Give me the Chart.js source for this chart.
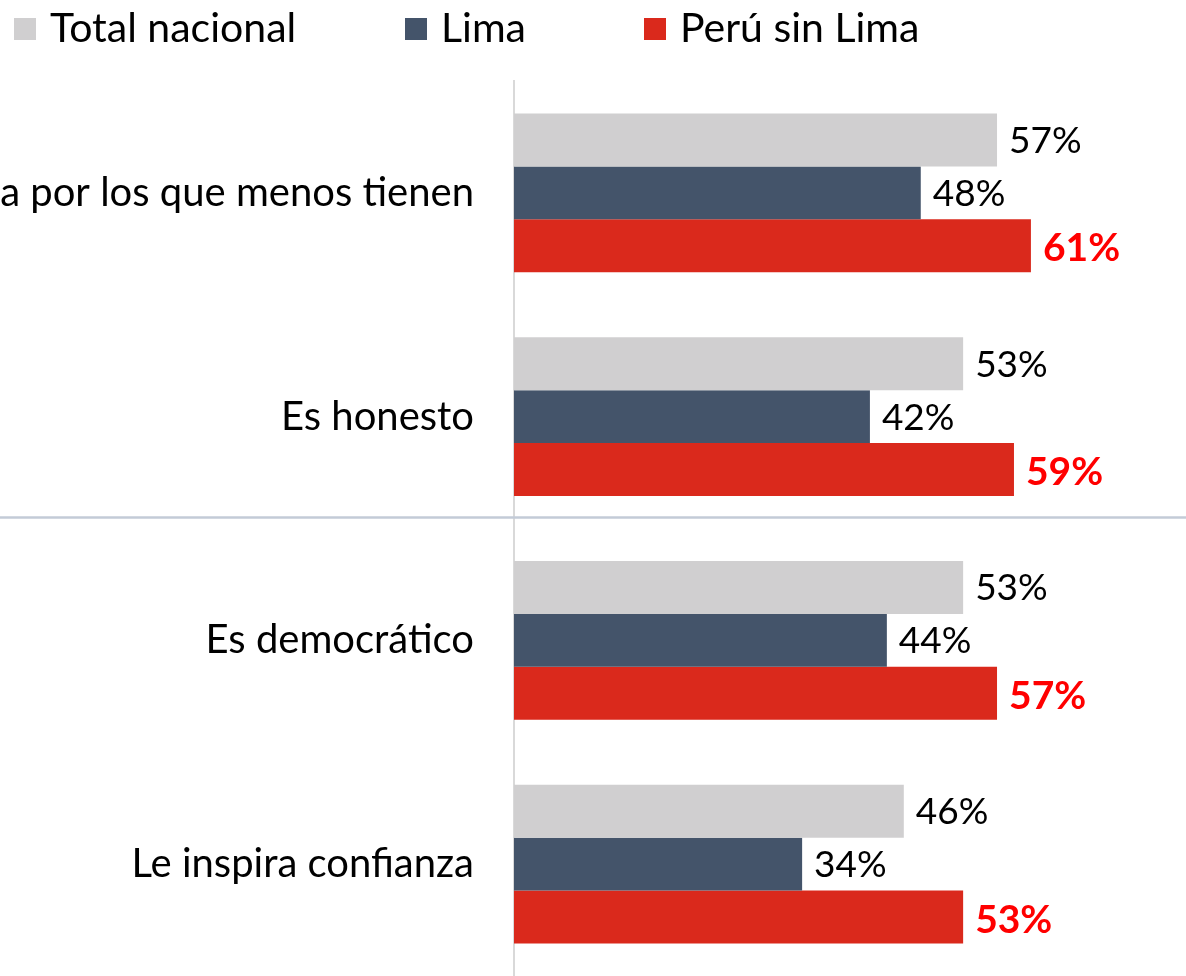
<!DOCTYPE html>
<html>
<head>
<meta charset="utf-8">
<script src="https://cdn.jsdelivr.net/npm/chart.js@4/dist/chart.umd.min.js"></script>
<style>
  html, body { margin: 0; padding: 0; background: #fff; }
  #wrap { position: relative; width: 1186px; height: 976px; }
</style>
</head>
<body>
<div id="wrap"><canvas id="chart"></canvas></div>
<script>
/* data */
const CATEGORIES = ['Se preocupa por los que menos tienen', 'Es honesto', 'Es democrático', 'Le inspira confianza'];
const SERIES_NAMES = ['Total nacional', 'Lima', 'Perú sin Lima'];
const TOTAL_NACIONAL = [57, 53, 53, 46];
const LIMA = [48, 42, 44, 34];
const PERU_SIN_LIMA = [61, 59, 57, 53];

const COLORS = ['#d0cfd0', '#44546a', '#da291c'];
const FONT = 'Lato, "Open Sans", sans-serif';

// legend drawn at fixed spots like the source slide
const legendPlugin = {
  id: 'slideLegend',
  afterDraw(chart) {
    const c = chart.ctx;
    const xs = [14, 405, 644];
    c.save();
    c.font = '41px ' + FONT;
    c.textBaseline = 'middle';
    chart.data.datasets.forEach((ds, i) => {
      c.fillStyle = ds.backgroundColor;
      c.fillRect(xs[i], 18, 22, 22);
      c.fillStyle = '#000';
      c.fillText(ds.label, xs[i] + 36, 29);
    });
    c.restore();
  }
};

// value labels right of each bar, the last series in bold red
const valueLabels = {
  id: 'valueLabels',
  afterDatasetsDraw(chart) {
    const c = chart.ctx;
    c.save();
    c.textBaseline = 'middle';
    chart.data.datasets.forEach((ds, di) => {
      const meta = chart.getDatasetMeta(di);
      const last = di === chart.data.datasets.length - 1;
      c.font = (last ? 'bold 39px ' : '37px ') + FONT;
      c.fillStyle = last ? '#ff0000' : '#000';
      meta.data.forEach((bar, i) => {
        c.fillText(ds.data[i] + '%', bar.x + 12, bar.y + (last ? 3 : 1));
      });
    });
    c.restore();
  }
};

// thin horizontal rule across the slide between the two blocks
const sepLine = {
  id: 'sepLine',
  beforeDatasetsDraw(chart) {
    const c = chart.ctx;
    c.save();
    c.strokeStyle = '#c3cbd7';
    c.lineWidth = 2.5;
    c.beginPath();
    c.moveTo(0, 517.5);
    c.lineTo(chart.width, 517.5);
    c.stroke();
    c.restore();
  }
};

new Chart(document.getElementById('chart'), {
  type: 'bar',
  data: {
    labels: CATEGORIES,
    datasets: [
      { label: SERIES_NAMES[0], data: TOTAL_NACIONAL, backgroundColor: COLORS[0] },
      { label: SERIES_NAMES[1], data: LIMA, backgroundColor: COLORS[1] },
      { label: SERIES_NAMES[2], data: PERU_SIN_LIMA, backgroundColor: COLORS[2] }
    ]
  },
  options: {
    indexAxis: 'y',
    responsive: true,
    maintainAspectRatio: false,
    animation: false,
    categoryPercentage: 0.71,
    barPercentage: 1,
    layout: { padding: { top: 81, bottom: 0, left: 0, right: 0 } },
    scales: {
      x: { display: false, min: 0, max: 79.3 },
      y: {
        afterFit(scale) {
          scale.width = 514;
          // tick padding otherwise eats room above/below the bars
          scale.paddingTop = 0;
          scale.paddingBottom = 0;
        },
        grid: { display: false },
        border: { display: true, color: '#d9d9d9', width: 2 },
        ticks: { color: '#000', padding: 32, font: { family: FONT, size: 40 } }
      }
    },
    plugins: { legend: { display: false }, tooltip: { enabled: false } }
  },
  plugins: [sepLine, valueLabels, legendPlugin]
});
</script>
</body>
</html>
